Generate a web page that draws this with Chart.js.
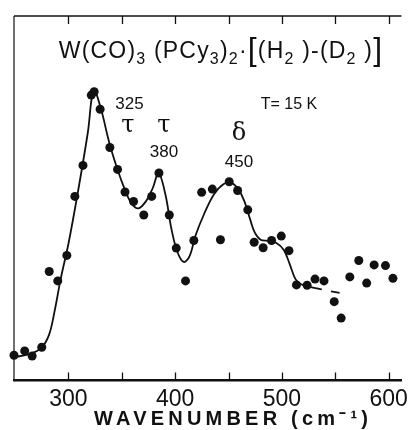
<!DOCTYPE html>
<html>
<head>
<meta charset="utf-8">
<script src="https://cdn.jsdelivr.net/npm/chart.js@4.4.1/dist/chart.umd.min.js"></script>
<style>
  body { margin: 0; background: #fff; }
  #grafico { display: block; }
</style>
</head>
<body>
<canvas id="grafico" width="413" height="430"></canvas>
<script>
// measured points (wavenumber, intensity in arbitrary units)
const dotWn = [249, 259, 266, 275, 282, 290, 298.5, 306, 313.6, 321.4, 324.1, 329.7, 338.8, 346, 353, 361,
  370.6, 378, 384.8, 394.5, 401, 409.7, 417.5, 424.8, 434.8, 442.4, 450.6, 458.5, 468, 474, 482.4, 490.3,
  499.4, 506.6, 513.6, 523.6, 531, 539.4, 549, 555.5, 563.6, 572, 579.4, 586.4, 597, 604];
const dotInt = [6.9, 8.1, 6.7, 9.1, 29.9, 27.3, 34.3, 50.5, 59.0, 78.3, 79.2, 74.4, 63.9, 57.9, 51.7, 49.1,
  45.4, 50.5, 56.9, 45.4, 36.3, 27.3, 38.4, 51.6, 52.5, 38.6, 54.5, 52.1, 46.8, 37.9, 36.4, 38.4,
  39.6, 35.6, 26.2, 26.1, 27.8, 27.3, 21.6, 17.1, 28.4, 32.9, 26.7, 31.7, 31.5, 28.0];

// smooth curve drawn through the data
const fitWn = [249, 263.6, 274.5, 281.8, 287.3, 292.7, 300, 309, 318.2, 323.6, 330, 338.2, 345.5, 352.7, 359,
  365.5, 372.7, 379, 384.5, 391, 396.4, 402, 408, 413.6, 419, 427.3, 436.4, 445.5, 452.7, 459, 464.5, 470,
  474.5, 480, 487.3, 494.5, 501.8, 507.3, 512.7, 518, 527.3, 537.3];
const fitInt = [6.4, 7.2, 8.9, 12.5, 19.4, 27.8, 37.5, 51.9, 68.1, 79.7, 75, 65.3, 58.3, 52.5, 48.6,
  47.2, 49.2, 52.8, 56.9, 50.8, 41.7, 35.3, 32.5, 34.2, 39.7, 45.8, 51.1, 53.9, 54.2, 52.5, 49.4, 44.4,
  40.6, 38.6, 38.3, 37.8, 35.8, 31.9, 27.8, 26.4, 25.6, 25.0];

const dashWn = [546, 554];
const dashInt = [24.4, 24.0];

const tickValues = [300, 400, 500, 600];
const minorTicks = [300, 350, 400, 450, 500, 550, 600];

const toPts = (xs, ys) => xs.map((x, i) => ({ x: x, y: ys[i] }));

const ink = '#111';

// draws frame, inner ticks and all the labels
const annotations = {
  id: 'annotations',
  afterDraw(chart) {
    const ctx = chart.ctx;
    const a = chart.chartArea;
    const xs = chart.scales.x;
    ctx.save();
    ctx.strokeStyle = ink;
    ctx.fillStyle = ink;

    // top and left frame
    ctx.lineWidth = 1.5;
    ctx.beginPath();
    ctx.moveTo(a.left, a.top); ctx.lineTo(a.right, a.top);
    ctx.stroke();
    ctx.lineWidth = 1.2;
    ctx.beginPath();
    ctx.moveTo(a.left, a.top); ctx.lineTo(a.left, a.bottom);
    ctx.stroke();

    // ticks pointing inwards
    ctx.lineWidth = 1.3;
    minorTicks.forEach(v => {
      const px = Math.round(xs.getPixelForValue(v)) + 0.5;
      ctx.beginPath();
      ctx.moveTo(px, a.bottom); ctx.lineTo(px, a.bottom - 8);
      ctx.moveTo(px, a.top); ctx.lineTo(px, a.top + 8);
      ctx.stroke();
    });

    // title with subscripts
    const big = '23px "Liberation Sans", Arial, sans-serif';
    const sub = '16px "Liberation Sans", Arial, sans-serif';
    const brk = '32px "Liberation Sans", Arial, sans-serif';
    const parts = [
      ['W(CO)', big, 0], ['3', sub, 6], [' (PCy', big, 0], ['3', sub, 6], [')', big, 0], ['2', sub, 6],
      ['·', big, 0], ['[', brk, 2], ['(H', big, 0], ['2', sub, 6], [' )-(D', big, 0], ['2', sub, 6], [' )', big, 0], [']', brk, 2]
    ];
    ctx.letterSpacing = '1.2px';
    ctx.textBaseline = 'alphabetic';
    ctx.textAlign = 'left';
    let total = 0;
    parts.forEach(p => { ctx.font = p[1]; total += ctx.measureText(p[0]).width; });
    let x = 221 - total / 2;
    parts.forEach(p => {
      ctx.font = p[1];
      ctx.fillText(p[0], x, 58 + p[2]);
      x += ctx.measureText(p[0]).width;
    });

    // temperature and peak labels
    ctx.letterSpacing = '0px';
    ctx.textAlign = 'center';
    ctx.textBaseline = 'middle';
    ctx.font = '16px "Liberation Sans", Arial, sans-serif';
    ctx.fillText('T= 15 K', 289, 105);
    ctx.font = '17px "Liberation Sans", Arial, sans-serif';
    ctx.fillText('325', 129.5, 104);
    ctx.fillText('380', 164, 152);
    ctx.fillText('450', 239, 162);
    ctx.font = '24px "DejaVu Serif", serif';
    ctx.fillText('τ', 128, 126);
    ctx.fillText('τ', 164, 126);
    ctx.fillText('δ', 239, 134);

    // axis title
    ctx.font = 'bold 20px "Liberation Sans", Arial, sans-serif';
    const label = 'WAVENUMBER (cm⁻¹)';
    const w0 = ctx.measureText(label).width;
    const sp = (274 - w0) / (label.length - 1);
    ctx.letterSpacing = sp.toFixed(2) + 'px';
    ctx.textBaseline = 'alphabetic';
    ctx.fillText(label, 231 + sp / 2, 425);
    ctx.restore();
  }
};

window.onload = () => {
  const contexto = document.getElementById('grafico');
  new Chart(contexto, {
    type: 'scatter',
    data: {
      datasets: [
        {
          data: toPts(dotWn, dotInt),
          showLine: false,
          clip: false,
          pointRadius: 4.5,
          pointBackgroundColor: ink,
          pointBorderWidth: 0
        },
        {
          data: toPts(fitWn, fitInt),
          showLine: true,
          borderColor: ink,
          borderWidth: 1.8,
          pointRadius: 0,
          tension: 0.35
        },
        {
          data: toPts(dashWn, dashInt),
          showLine: true,
          borderColor: ink,
          borderWidth: 1.8,
          pointRadius: 0
        }
      ]
    },
    options: {
      responsive: false,
      animation: false,
      layout: { padding: { left: 14, top: 16, right: 0, bottom: 12 } },
      plugins: { legend: { display: false }, tooltip: { enabled: false } },
      scales: {
        x: {
          type: 'linear',
          min: 249,
          max: 612,
          afterBuildTicks: scale => { scale.ticks = tickValues.map(v => ({ value: v })); },
          grid: { display: false, drawTicks: false },
          border: { display: true, width: 2.5, color: ink },
          ticks: {
            color: ink,
            padding: 5,
            font: { family: '"Liberation Sans", Arial', size: 23 }
          }
        },
        y: {
          display: false,
          min: 0,
          max: 100
        }
      }
    },
    plugins: [annotations]
  });
};
</script>
</body>
</html>
